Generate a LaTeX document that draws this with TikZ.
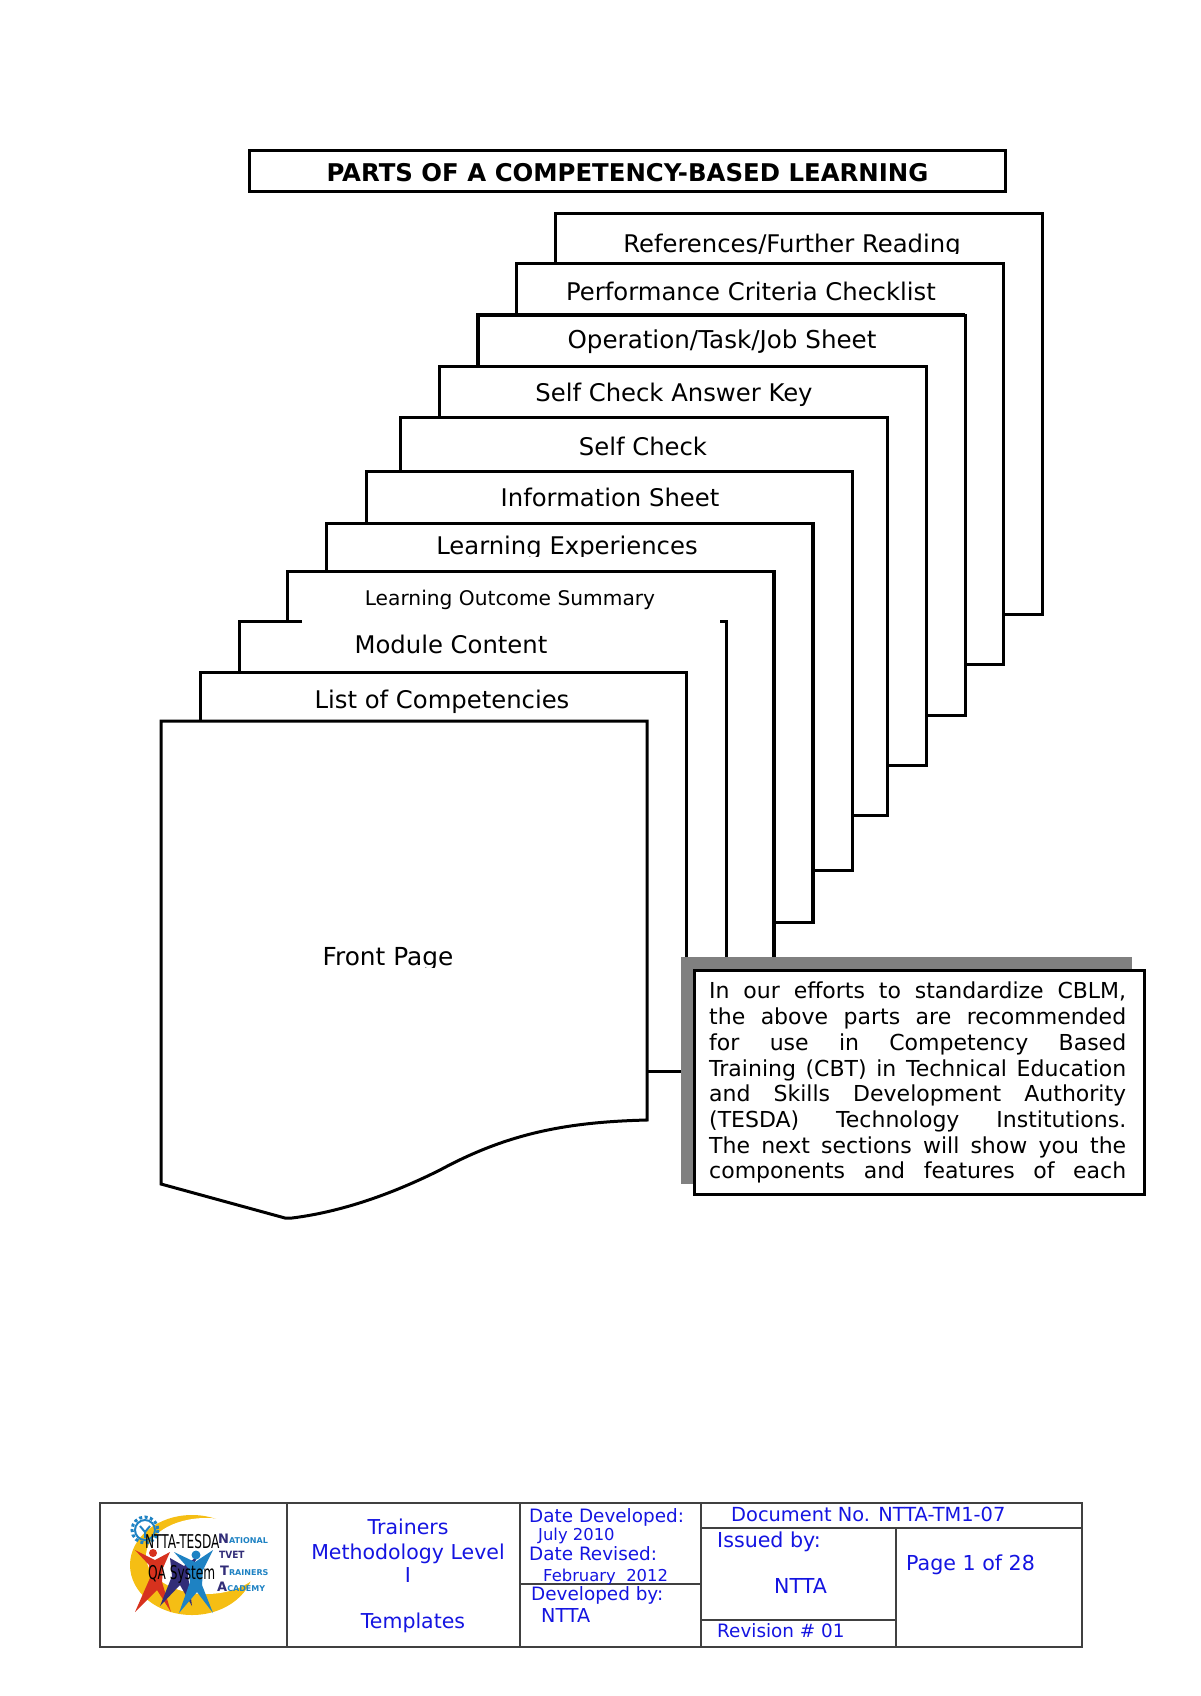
\documentclass[tikz,border=0pt]{standalone}
\usepackage{fontspec}
\setmainfont{DejaVu Sans}
\definecolor{footblue}{RGB}{20,20,225}
\definecolor{logoyellow}{RGB}{245,190,20}
\definecolor{logoblue}{RGB}{30,130,195}
\definecolor{logored}{RGB}{215,50,30}
\definecolor{logonavy}{RGB}{50,45,120}
\newcommand{\jline}[1]{\makebox[417pt][s]{#1}\\}
\newcommand{\capfirst}[2]{{\fontsize{13}{14}\selectfont\color{logonavy}#1}{\fontsize{8}{9}\selectfont #2}}
\tikzset{
    pagebox/.style={draw=black, fill=white, line width=3pt, line join=miter},
    pagelabel/.style={font=\fontsize{24.3}{29}\selectfont, inner sep=0pt, anchor=base},
    footline/.style={draw=black!75, line width=1.3pt},
    foottext/.style={text=footblue, font=\fontsize{20.5}{25}\selectfont, inner sep=0pt, anchor=base},
    footsmall/.style={text=footblue, font=\fontsize{18.4}{22}\selectfont, inner sep=0pt, anchor=base west},
    footleft/.style={text=footblue, font=\fontsize{20.6}{25}\selectfont, inner sep=0pt, anchor=base west},
    logotext/.style={text=logoblue, font=\bfseries, inner sep=0pt, anchor=base west},
    logobig/.style={text=black, font=\fontsize{19}{20}\selectfont, xscale=0.64, inner sep=0pt, anchor=base west}
}
\begin{document}
\begin{tikzpicture}[x=1pt, y=-1pt]
    \useasboundingbox (0,0) rectangle (1200,1696);
    % Title
    \node[draw, line width=3pt, minimum width=756pt, minimum height=41pt, inner sep=0pt, font=\bfseries\fontsize{24.4}{29}\selectfont] (title) at (627.5,171) {\raisebox{-2pt}[\height][\depth]{PARTS OF A COMPETENCY-BASED LEARNING}};
    % Pages, back to front
    \foreach \l/\t/\r/\b in {555/214/1042/614, 516/264/1003/664, 478/315/965/715, 439/366/926/765, 400/417/887/815, 366/471/852/870, 326/523/813/922, 287/571/774/1000}{
        \draw[pagebox] (\l,\t) rectangle (\r,\b);
    }
    \draw[line width=4.5pt] (476,315) -- (965,315);
    \draw[line width=4pt] (478,315) -- (478,366);
    \draw[line width=4pt] (813,523) -- (813,923);
    \draw[line width=4pt] (774,571) -- (774,1000);
    \draw[pagebox, draw=none] (239,621) rectangle (726,1000);
    \draw[pagebox, fill=none] (302,621) -| (239,672);
    \draw[pagebox, fill=none] (720,621) -| (726,1000);
    \draw[pagebox] (200,672) rectangle (686,1071);
    % Front page
    \draw[pagebox] (161,721) -- (647,721) -- (647,1120) .. controls (570,1122) and (510,1132) .. (440,1170) .. controls (390,1195) and (340,1212) .. (292,1218) -- (285,1218) -- (161,1184) -- cycle;
    % Labels
    \begin{scope}
        \clip (600,220) rectangle (1000,254);
        \node[pagelabel] (lblrefs) at (792,252) {References/Further Reading};
    \end{scope}
    \node[pagelabel] (lblperf) at (751,300) {Performance Criteria Checklist};
    \node[pagelabel, font=\fontsize{24.6}{29}\selectfont] (lbloper) at (722,348) {Operation/Task/Job Sheet};
    \node[pagelabel] (lblansw) at (674,401) {Self Check Answer Key};
    \node[pagelabel] (lblself) at (643,455) {Self Check};
    \node[pagelabel] (lblinfo) at (610,506) {Information Sheet};
    \begin{scope}
        \clip (420,525) rectangle (720,556);
        \node[pagelabel] (lbllear) at (567,554) {Learning Experiences};
    \end{scope}
    \node[pagelabel, font=\fontsize{20.2}{25}\selectfont] (lblsumm) at (510,605) {Learning Outcome Summary};
    \node[pagelabel] (lblmodu) at (451,653) {Module Content};
    \node[pagelabel] (lblcomp) at (442,708) {List of Competencies};
    \begin{scope}
        \clip (300,930) rectangle (480,967);
        \node[pagelabel, font=\fontsize{24.8}{29}\selectfont] (lblfront) at (388,965) {Front Page};
    \end{scope}
    % Callout
    \fill[black!50] (681,957) rectangle (1132,1184);
    \node[draw, fill=white, line width=3pt, minimum width=450pt, minimum height=224pt, inner sep=0pt, anchor=north west] (note) at (693,969) {};
    \node[anchor=north west, inner sep=0pt, align=left, font=\fontsize{22}{25.7}\selectfont] (notetext) at (709,982) {%
        \jline{In our efforts to standardize CBLM,}
        \jline{the above parts are recommended}
        \jline{for use in Competency Based}
        \jline{Training (CBT) in Technical Education}
        \jline{and Skills Development Authority}
        \jline{(TESDA) Technology Institutions.}
        \jline{The next sections will show you the}
        \makebox[417pt][s]{components and features of each}};
    % Footer table
    \draw[footline] (100,1503) rectangle (1082,1647);
    \draw[footline] (287,1503) -- (287,1647);
    \draw[footline] (520,1503) -- (520,1647);
    \draw[footline] (701,1503) -- (701,1647);
    \draw[footline] (520,1584) -- (701,1584);
    \draw[footline] (701,1528) -- (1082,1528);
    \draw[footline] (896,1528) -- (896,1647);
    \draw[footline] (701,1620) -- (896,1620);
    % Logo
    \fill[logoyellow] (192,1565) ellipse (62 and 50);
    \fill[white] (206,1556) ellipse (60 and 38);
    \draw[logoblue, line width=3pt, dash pattern=on 3pt off 2.5pt] (145,1530) circle (13);
    \draw[logoblue, line width=2pt] (145,1530) circle (10);
    \draw[logoblue, line width=2pt] (140,1526) -- (145,1532) -- (150,1526) (145,1532) -- (145,1538);
    \fill[logored] (135,1612) -- (150,1578) -- (149,1565) -- (135,1550) -- (155,1560) -- (170,1552) -- (163,1568) -- (162,1582) -- (171,1612) -- (157,1590) -- cycle;
    \fill[logored] (153,1553) circle (4);
    \fill[logonavy] (160,1606) -- (172,1576) -- (170,1558) -- (184,1566) -- (198,1556) -- (188,1575) -- (192,1606) -- (180,1585) -- cycle;
    \fill[logoblue] (179,1613) -- (190,1582) -- (188,1568) -- (174,1552) -- (195,1562) -- (213,1550) -- (203,1570) -- (202,1585) -- (213,1613) -- (197,1592) -- cycle;
    \fill[logoblue] (196,1555) circle (4.5);
    \node[logobig] (logotop) at (145,1548) {NTTA-TESDA};
    \node[logobig] (logoqa) at (148,1579) {QA System};
    \node[logotext] (logonat) at (218,1543) {\capfirst{N}{ATIONAL}};
    \node[logotext, text=logonavy, font=\bfseries\fontsize{10}{11}\selectfont, xscale=0.9] (logotvet) at (219,1558) {TVET};
    \node[logotext] (logotrain) at (220,1575) {\capfirst{T}{RAINERS}};
    \node[logotext] (logoacad) at (217,1591) {\capfirst{A}{CADEMY}};
    % Footer texts
    \node[foottext] (ftrain) at (408,1534) {Trainers};
    \node[foottext] (fmeth) at (408,1559) {Methodology Level};
    \node[foottext] (fone) at (408,1582) {I};
    \node[foottext] (ftemp) at (413,1628) {Templates};
    \node[footsmall] (fdate) at (529,1522) {Date Developed:};
    \node[footsmall, font=\fontsize{16.4}{20}\selectfont] (fjuly) at (538,1540) {July 2010};
    \node[footsmall] (frev) at (529,1560) {Date Revised:};
    \node[footsmall, font=\fontsize{16.4}{20}\selectfont] (ffeb) at (543,1581) {February\ \ 2012};
    \node[footsmall] (fdev) at (531,1600) {Developed by:};
    \node[footsmall, font=\fontsize{19.2}{23}\selectfont] (fntta) at (541,1622) {NTTA};
    \node[footleft, font=\fontsize{19.4}{23}\selectfont] (fdoc) at (731,1521) {Document No. NTTA-TM1-07};
    \node[footleft] (fiss) at (717,1547) {Issued by:};
    \node[footleft] (fissn) at (774,1593) {NTTA};
    \node[footleft, font=\fontsize{18.4}{22}\selectfont] (frvn) at (717,1637) {Revision \# 01};
    \node[footleft] (fpage) at (906,1570) {Page 1 of 28};
\end{tikzpicture}
\end{document}
